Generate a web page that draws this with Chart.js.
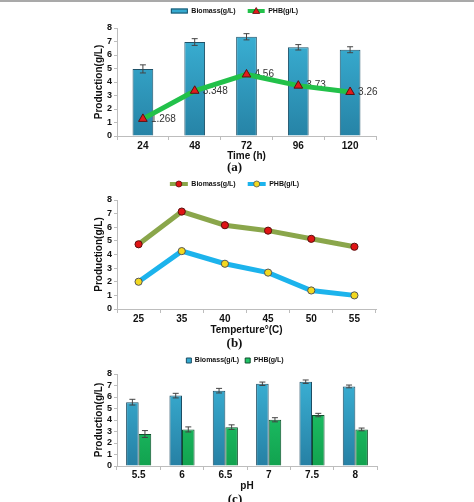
<!DOCTYPE html>
<html><head><meta charset="utf-8">
<script src="https://cdn.jsdelivr.net/npm/chart.js@4.4.0/dist/chart.umd.min.js"></script>
<style>
html,body{margin:0;padding:0;background:#fff;}
#wrap{position:relative;width:474px;height:502px;overflow:hidden;background:#fff;}
#topline{position:absolute;left:0;top:0;width:474px;height:2px;background:#a9a9a9;}
.c{position:absolute;left:0;width:474px;}
</style></head><body>
<div id="wrap">
<div class="c" style="top:0;height:174px"><canvas id="ca" width="474" height="174"></canvas></div>
<div class="c" style="top:172px;height:178px"><canvas id="cb" width="474" height="178"></canvas></div>
<div class="c" style="top:345px;height:161px"><canvas id="cc" width="474" height="161"></canvas></div>
<div id="topline"></div>
</div>
<script>
// ---- data ----
const timeLabels = ['24','48','72','96','120'];
const timeBiomass = [4.97, 6.96, 7.35, 6.57, 6.39];
const timeBiomassErr = [0.3, 0.25, 0.23, 0.2, 0.22];
const timePHB = [1.268, 3.348, 4.56, 3.73, 3.26];
const timePHBText = ['1.268','3.348','4.56','3.73','3.26'];

const tempLabels = ['25','35','40','45','50','55'];
const tempBiomass = [4.75, 7.15, 6.15, 5.75, 5.15, 4.57];
const tempPHB = [2.0, 4.25, 3.32, 2.67, 1.36, 1.0];

const phLabels = ['5.5','6','6.5','7','7.5','8'];
const phBiomass = [5.55, 6.12, 6.55, 7.15, 7.33, 6.92];
const phBiomassErr = [0.25, 0.2, 0.2, 0.15, 0.15, 0.12];
const phPHB = [2.78, 3.18, 3.38, 4.02, 4.43, 3.18];
const phPHBErr = [0.3, 0.22, 0.2, 0.18, 0.15, 0.12];

const yTicks = [0,1,2,3,4,5,6,7,8];

// ---- helpers ----
const FAM = "'Liberation Sans', Arial, sans-serif";
Chart.defaults.font.family = FAM;
Chart.defaults.color = '#111';

function grad(top, bottom){
  return (c)=>{
    const ch=c.chart, a=ch.chartArea;
    if(!a) return top;
    const g=ch.ctx.createLinearGradient(0,a.top,0,a.bottom);
    g.addColorStop(0,top); g.addColorStop(1,bottom);
    return g;
  };
}

const errorBars = {
  id:'errorBars',
  afterDatasetsDraw(chart){
    const ctx=chart.ctx, y=chart.scales.y;
    chart.data.datasets.forEach((ds,i)=>{
      if(!ds.errors) return;
      const meta=chart.getDatasetMeta(i);
      meta.data.forEach((el,j)=>{
        const v=ds.data[j], e=ds.errors[j];
        const x=el.x, yt=y.getPixelForValue(v+e), yb=y.getPixelForValue(v-e);
        ctx.save(); ctx.strokeStyle='#444'; ctx.lineWidth=1;
        ctx.beginPath();
        ctx.moveTo(x,yt); ctx.lineTo(x,yb);
        ctx.moveTo(x-3,yt); ctx.lineTo(x+3,yt);
        ctx.moveTo(x-3,yb); ctx.lineTo(x+3,yb);
        ctx.stroke(); ctx.restore();
      });
    });
  }
};

// value labels of the line dataset, painted after the bars but beneath the line
const valueLabels = {
  id:'valueLabels',
  afterDatasetDraw(chart, args){
    if(args.index!==0) return;
    const ctx=chart.ctx;
    chart.data.datasets.forEach((ds,i)=>{
      if(!ds.valueText) return;
      const meta=chart.getDatasetMeta(i);
      meta.data.forEach((el,j)=>{
        ctx.save();
        ctx.font = "10px "+FAM; ctx.fillStyle='#333';
        ctx.textAlign='left'; ctx.textBaseline='middle';
        ctx.fillText(ds.valueText[j], el.x+8, el.y);
        ctx.restore();
      });
    });
  }
};

// draws custom legend symbols (line+marker or rect) into the legend box slots
const legendSymbols = {
  id:'legendSymbols',
  afterDraw(chart){
    const lg=chart.legend; if(!lg || !lg.legendHitBoxes) return;
    const ctx=chart.ctx;
    lg.legendItems.forEach((it,k)=>{
      const hb=lg.legendHitBoxes[k];
      const w=lg.options.labels.boxWidth;
      const cy=hb.top+hb.height/2, x0=hb.left, x1=hb.left+w, cx=(x0+x1)/2;
      ctx.save();
      if(it.rectItem){
        const h=it.rectItem.h;
        ctx.fillStyle=it.rectItem.fill; ctx.strokeStyle=it.rectItem.edge; ctx.lineWidth=1;
        ctx.fillRect(x0,cy-h/2,w,h); ctx.strokeRect(x0+0.5,cy-h/2+0.5,w-1,h-1);
      }
      if(it.lineItem){
        ctx.strokeStyle=it.lineItem.line; ctx.lineWidth=4;
        ctx.beginPath(); ctx.moveTo(x0,cy); ctx.lineTo(x1,cy); ctx.stroke();
        ctx.fillStyle=it.lineItem.fill; ctx.strokeStyle=it.lineItem.edge; ctx.lineWidth=0.8;
        ctx.beginPath();
        if(it.lineItem.shape==='triangle'){
          ctx.moveTo(cx,cy-3.5); ctx.lineTo(cx+3.5,cy+2.5); ctx.lineTo(cx-3.5,cy+2.5); ctx.closePath();
        } else {
          ctx.arc(cx,cy,3,0,Math.PI*2);
        }
        ctx.fill(); ctx.stroke();
      }
      ctx.restore();
    });
  }
};

function yScale(){
  return {
    min:0, max:8,
    afterBuildTicks:(s)=>{ s.ticks = yTicks.map(v=>({value:v})); },
    afterFit:(s)=>{ s.width = 24; },
    grid:{display:true, drawOnChartArea:false, drawTicks:true, tickLength:3, color:'#bdbdbd'},
    border:{color:'#bdbdbd'},
    ticks:{font:{size:9, weight:'bold', lineHeight:1}, color:'#111', padding:2, autoSkip:false},
    title:{display:true, text:'Production(g/L)', font:{size:10, weight:'bold'}, color:'#111', padding:{top:0,bottom:0}}
  };
}
function xScale(title, tickPad, titlePad){
  return {
    type:'category', offset:true,
    grid:{display:true, offset:true, drawOnChartArea:false, drawTicks:true, tickLength:4, color:'#bdbdbd'},
    border:{color:'#bdbdbd'},
    ticks:{font:{size:10, weight:'bold', lineHeight:1}, color:'#111', padding:tickPad, maxRotation:0, autoSkip:false},
    title:{display:true, text:title, font:{size:10, weight:'bold', lineHeight:1}, color:'#111', padding:{top:titlePad,bottom:0}}
  };
}
function bottomTitle(t, pad){
  return {display:true, text:t, position:'bottom', color:'#111',
    font:{family:"'Liberation Serif', 'Times New Roman', serif", size:13, weight:'bold', lineHeight:1}, padding:{top:pad,bottom:0}};
}
const legendFont = {size:7, weight:'bold'};
const clear = 'rgba(0,0,0,0)';

// ---- chart (a) ----
new Chart(document.getElementById('ca'), {
  type:'bar',
  data:{
    labels: timeLabels,
    datasets:[
      {type:'bar', label:'Biomass(g/L)', data:timeBiomass, errors:timeBiomassErr,
       backgroundColor:grad('#3bb2d6','#2683a6'), borderColor:'#1d5269', borderWidth:1,
       categoryPercentage:0.8, barPercentage:0.5, order:2},
      {type:'line', label:'PHB(g/L)', data:timePHB, valueText:timePHBText,
       borderColor:'#22c14a', borderWidth:5, pointStyle:'triangle', pointRadius:5,
       pointBackgroundColor:'#e21b1b', pointBorderColor:'#5b1010', pointBorderWidth:1, order:1}
    ]
  },
  options:{
    responsive:false, animation:false,
    layout:{padding:{left:93, right:98, top:-8, bottom:0}},
    scales:{ x:xScale('Time (h)', 1, -1), y:yScale() },
    plugins:{
      tooltip:{enabled:false},
      title:bottomTitle('(a)', 0),
      legend:{display:true, position:'top',
        labels:{font:legendFont, color:'#111', boxWidth:17, boxHeight:14, padding:12,
          generateLabels:()=>[
            {text:'Biomass(g/L)', fillStyle:clear, strokeStyle:clear, lineWidth:0, datasetIndex:0, fontColor:'#111',
             rectItem:{h:5, fill:'#35aad0', edge:'#1d5269'}},
            {text:'PHB(g/L)', fillStyle:clear, strokeStyle:clear, lineWidth:0, datasetIndex:1, fontColor:'#111',
             lineItem:{line:'#22c14a', fill:'#e21b1b', edge:'#5b1010', shape:'triangle'}}
          ]}}
    }
  },
  plugins:[errorBars, valueLabels, legendSymbols]
});

// ---- chart (b) ----
new Chart(document.getElementById('cb'), {
  type:'line',
  data:{
    labels: tempLabels,
    datasets:[
      {label:'Biomass(g/L)', data:tempBiomass, borderColor:'#8aa64b', borderWidth:5,
       pointRadius:3.6, pointBackgroundColor:'#e01414', pointBorderColor:'#5a1010', pointBorderWidth:1},
      {label:'PHB(g/L)', data:tempPHB, borderColor:'#1cb3ec', borderWidth:5,
       pointRadius:3.6, pointBackgroundColor:'#f2d820', pointBorderColor:'#555', pointBorderWidth:1}
    ]
  },
  options:{
    responsive:false, animation:false,
    layout:{padding:{left:93, right:98, top:-6, bottom:0}},
    scales:{ x:xScale('Temperture°(C)', 1, 0), y:yScale() },
    plugins:{
      tooltip:{enabled:false},
      title:bottomTitle('(b)', 2),
      legend:{display:true, position:'top',
        labels:{font:legendFont, color:'#111', boxWidth:18, boxHeight:12, padding:12,
          generateLabels:()=>[
            {text:'Biomass(g/L)', fillStyle:clear, strokeStyle:clear, lineWidth:0, datasetIndex:0, fontColor:'#111',
             lineItem:{line:'#8aa64b', fill:'#e01414', edge:'#5a1010', shape:'circle'}},
            {text:'PHB(g/L)', fillStyle:clear, strokeStyle:clear, lineWidth:0, datasetIndex:1, fontColor:'#111',
             lineItem:{line:'#1cb3ec', fill:'#f2d820', edge:'#555', shape:'circle'}}
          ]}}
    }
  },
  plugins:[legendSymbols]
});

// ---- chart (c) ----
new Chart(document.getElementById('cc'), {
  type:'bar',
  data:{
    labels: phLabels,
    datasets:[
      {label:'Biomass(g/L)', data:phBiomass, errors:phBiomassErr,
       backgroundColor:grad('#3bb2d6','#2680a4'), borderColor:'#1d4d63', borderWidth:1,
       categoryPercentage:0.58, barPercentage:1.0},
      {label:'PHB(g/L)', data:phPHB, errors:phPHBErr,
       backgroundColor:grad('#22cf70','#12a24f'), borderColor:'#0f4f2c', borderWidth:1,
       categoryPercentage:0.58, barPercentage:1.0}
    ]
  },
  options:{
    responsive:false, animation:false,
    layout:{padding:{left:93, right:97, top:6, bottom:0}},
    scales:{ x:xScale('pH', 0, 1), y:yScale() },
    plugins:{
      tooltip:{enabled:false},
      title:bottomTitle('(c)', 2),
      legend:{display:true, position:'top',
        labels:{font:legendFont, color:'#111', boxWidth:5, boxHeight:5, padding:6,
          generateLabels:()=>[
            {text:'Biomass(g/L)', fillStyle:'#35aad0', strokeStyle:'#1d4d63', lineWidth:1, datasetIndex:0, fontColor:'#111'},
            {text:'PHB(g/L)', fillStyle:'#1fc466', strokeStyle:'#0f4f2c', lineWidth:1, datasetIndex:1, fontColor:'#111'}
          ]}}
    }
  },
  plugins:[errorBars]
});
</script>
</body></html>
